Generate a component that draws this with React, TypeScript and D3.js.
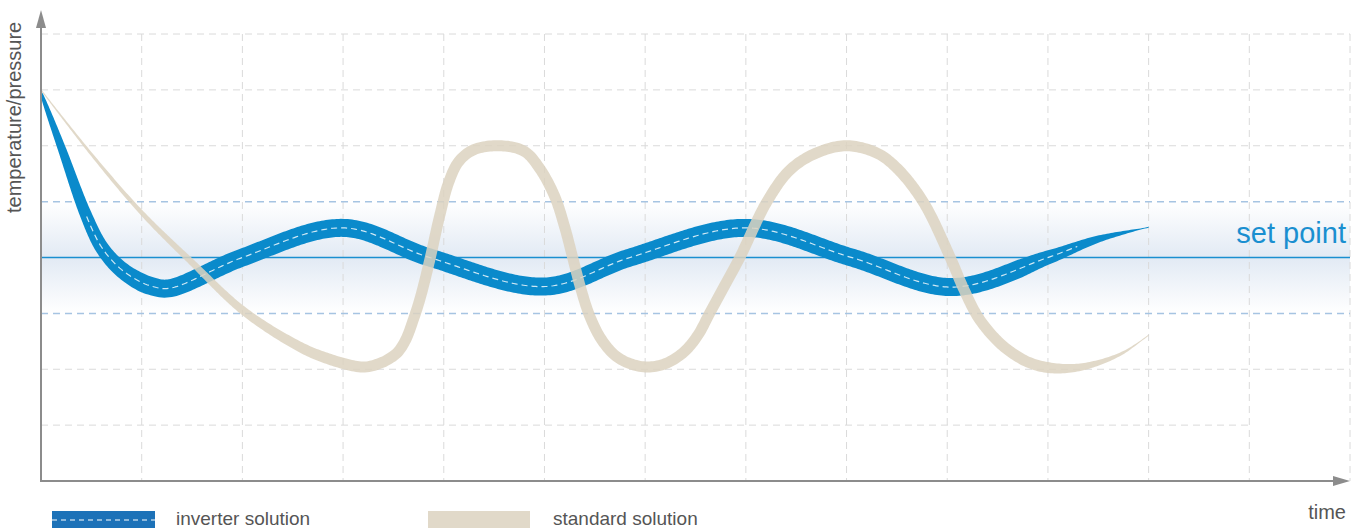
import React, { useEffect, useRef } from 'react';
import * as d3 from 'd3';

const W = 1363;
const H = 528;

// time positions of the vertical grid lines and value levels of the horizontal ones
const gridTimes = [1, 2, 3, 4, 5, 6, 7, 8, 9, 10, 11, 12, 13];
const gridLevels = [1, 2, 6, 7, 8];
const bandLevels = [3, 5];
const setPoint = 4;

// inverter solution (centre line)
const invTime = [0, 0.2, 0.44, 0.6, 0.77, 0.95, 1.11, 1.28, 2.0, 3.0, 3.86, 5.0, 5.85, 7.0, 8.05, 9.05, 10.0, 10.5, 11.0];
const invValue = [6.95, 5.98, 4.79, 4.19, 3.83, 3.6, 3.48, 3.45, 4.0, 4.53, 4.0, 3.48, 4.0, 4.53, 4.0, 3.47, 4.0, 4.33, 4.54];

// standard solution (centre line)
const stdTime = [
  0, 0.5, 1.0, 1.5, 2.0, 2.5, 2.8, 3.2, 3.37, 3.45, 3.54, 3.62, 3.7, 3.77, 3.86, 3.96, 4.05, 4.15, 4.3, 4.56,
  4.8, 4.95, 5.1, 5.2, 5.28, 5.36, 5.45, 5.56, 5.7, 5.85, 6.02,
  6.2, 6.38, 6.52, 6.64, 6.79, 6.94, 7.21, 7.44, 7.7, 8.0,
  8.3, 8.5, 8.76, 9.03, 9.16, 9.3, 9.45, 9.6, 9.8, 10.0, 10.25, 10.49, 10.75, 11.0,
];
const stdValue = [
  7.0, 5.85, 4.8, 3.91, 3.06, 2.47, 2.22, 2.04, 2.11, 2.18, 2.3, 2.52, 2.9, 3.3, 3.95, 4.75, 5.35, 5.72, 5.93, 6.0,
  5.9, 5.6, 5.1, 4.55, 4.0, 3.45, 2.95, 2.55, 2.25, 2.1, 2.04,
  2.1, 2.3, 2.6, 3.0, 3.5, 4.0, 5.0, 5.57, 5.87, 6.0,
  5.87, 5.6, 5.0, 4.0, 3.45, 2.95, 2.6, 2.35, 2.13, 2.03, 2.02, 2.11, 2.3, 2.61,
];

const legendItems = ['inverter solution', 'standard solution'];

const BLUE = '#0a8acb';
const BEIGE = '#dcd2c0';
const FONT = '"Liberation Sans", Arial, sans-serif';

const x = d3.scaleLinear().domain([0, 13]).range([41, 1350]);
const y = d3.scaleLinear().domain([0, 8]).range([481, 34]);

function linePath(ts: number[], vs: number[]) {
  return d3
    .line<number>()
    .x((t) => x(t))
    .y((_, i) => y(vs[i]))
    .curve(d3.curveCatmullRom.alpha(0.5))(ts) as string;
}

function invWidth(t: number) {
  const start = 2 + 16 * Math.pow(Math.min(1, t / 1.0), 0.6);
  const end = t > 9.7 ? Math.max(1, (18 * (11 - t)) / 1.3) : 18;
  return Math.min(start, end);
}

function stdWidth(t: number) {
  const start = 1 + 10 * Math.min(1, t / 2.8);
  const end = t > 10 ? Math.max(1, 11 * (11 - t)) : 11;
  return Math.min(start, end);
}

function ribbon(el: SVGPathElement, widthAt: (t: number) => number) {
  const L = el.getTotalLength();
  const n = Math.ceil(L / 2);
  const pts: [number, number][] = [];
  for (let i = 0; i <= n; i++) {
    const p = el.getPointAtLength((i / n) * L);
    pts.push([p.x, p.y]);
  }
  const left: [number, number][] = [];
  const right: [number, number][] = [];
  pts.forEach((p, i) => {
    const a = pts[Math.max(0, i - 1)];
    const b = pts[Math.min(pts.length - 1, i + 1)];
    const dx = b[0] - a[0];
    const dy = b[1] - a[1];
    const len = Math.hypot(dx, dy) || 1;
    const nx = -dy / len;
    const ny = dx / len;
    const w = widthAt(x.invert(p[0])) / 2;
    left.push([p[0] + nx * w, p[1] + ny * w]);
    right.push([p[0] - nx * w, p[1] - ny * w]);
  });
  return { d: d3.line()([...left, ...right.reverse()]) + 'Z', pts };
}

export default function App() {
  const invRef = useRef<SVGPathElement>(null);
  const stdRef = useRef<SVGPathElement>(null);
  const drawRef = useRef<SVGGElement>(null);

  useEffect(() => {
    if (!invRef.current || !stdRef.current || !drawRef.current) return;
    const g = d3.select(drawRef.current);
    g.selectAll('*').remove();

    const inv = ribbon(invRef.current, invWidth);
    const std = ribbon(stdRef.current, stdWidth);

    g.append('path').attr('d', inv.d).attr('fill', BLUE);
    const dashPts = inv.pts.filter((p) => {
      const t = x.invert(p[0]);
      return t > 0.45 && t < 10.3;
    });
    g.append('path')
      .attr('d', d3.line()(dashPts))
      .attr('fill', 'none')
      .attr('stroke', '#ffffff')
      .attr('stroke-width', 1.2)
      .attr('stroke-dasharray', '6,4')
      .attr('opacity', 0.8);

    g.append('path').attr('d', std.d).attr('fill', BEIGE).attr('opacity', 0.85);
  }, []);

  return (
    <svg
      width={W}
      height={H}
      style={{ position: 'fixed', left: 0, top: 0, background: '#fff' }}
    >
      <defs>
        <linearGradient id="band" x1="0" y1="0" x2="0" y2="1">
          <stop offset="0" stopColor="#ffffff" />
          <stop offset="0.5" stopColor="#e2eaf4" />
          <stop offset="1" stopColor="#ffffff" />
        </linearGradient>
      </defs>

      <rect
        x={x(0)}
        y={y(bandLevels[1])}
        width={x(13) - x(0)}
        height={y(bandLevels[0]) - y(bandLevels[1])}
        fill="url(#band)"
      />

      <g stroke="#dadada" strokeWidth={1} strokeDasharray="7,5" fill="none">
        {gridTimes.map((t) => (
          <line key={'v' + t} x1={x(t)} x2={x(t)} y1={y(8)} y2={y(0)} />
        ))}
        {gridLevels.map((v) => (
          <line key={'h' + v} x1={x(0)} x2={v === 1 ? x(12) : x(13)} y1={y(v)} y2={y(v)} />
        ))}
      </g>

      <g stroke="#a6c4e2" strokeWidth={1.5} strokeDasharray="7,5">
        {bandLevels.map((v) => (
          <line key={'b' + v} x1={x(0)} x2={x(13)} y1={y(v)} y2={y(v)} />
        ))}
      </g>
      <line x1={x(0)} x2={x(13)} y1={y(setPoint)} y2={y(setPoint)} stroke="#1a8fd0" strokeWidth={1.5} />

      <path ref={invRef} d={linePath(invTime, invValue)} fill="none" stroke="none" />
      <path ref={stdRef} d={linePath(stdTime, stdValue)} fill="none" stroke="none" />
      <g ref={drawRef} />

      <text x={1346} y={243} textAnchor="end" fontFamily={FONT} fontSize={29} fill="#1a8fd0">
        set point
      </text>

      {/* axes */}
      <g stroke="#8c8c8c" strokeWidth={2}>
        <line x1={x(0)} x2={x(0)} y1={y(0) + 1} y2={26} />
        <line x1={x(0) - 1} x2={1336} y1={y(0)} y2={y(0)} />
      </g>
      <path d="M41,10L36,28L46,28Z" fill="#8c8c8c" />
      <path d={`M1350,${y(0)}L1333,${y(0) - 5}L1333,${y(0) + 5}Z`} fill="#8c8c8c" />

      <text
        transform="translate(21,213) rotate(-90)"
        fontFamily={FONT}
        fontSize={20}
        fill="#555"
      >
        temperature/pressure
      </text>
      <text x={1346} y={519} textAnchor="end" fontFamily={FONT} fontSize={20} fill="#555">
        time
      </text>

      {/* legend */}
      <rect x={52} y={511} width={103} height={20} fill="#1d72b8" />
      <line x1={52} x2={155} y1={520} y2={520} stroke="#fff" strokeWidth={1.2} strokeDasharray="5,4" />
      <text x={176} y={525} fontFamily={FONT} fontSize={19} fill="#555">
        {legendItems[0]}
      </text>
      <rect x={428} y={511} width={102} height={20} fill="#e1d9c9" />
      <text x={553} y={525} fontFamily={FONT} fontSize={19} fill="#555">
        {legendItems[1]}
      </text>
    </svg>
  );
}
